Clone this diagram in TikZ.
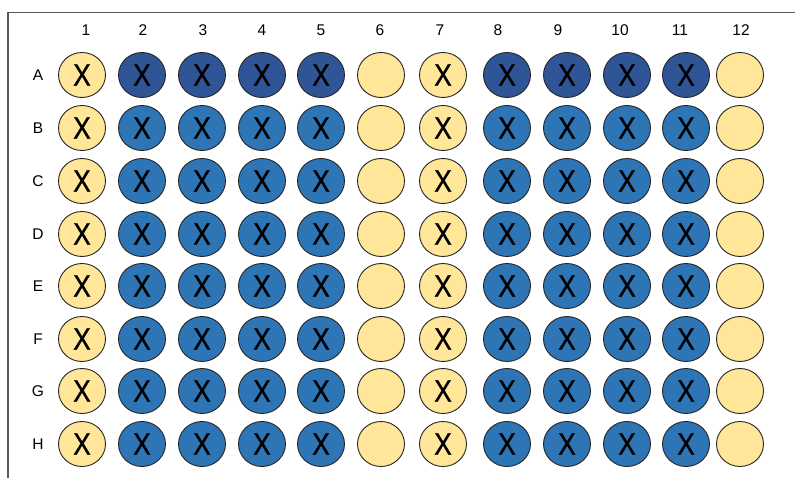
\documentclass[tikz,border=0pt]{standalone}
\usepackage{fontspec}
\setmainfont{Liberation Sans}
\newfontface\wellface{Liberation Sans}[FakeBold=1]
\usepackage{xcolor}
\usetikzlibrary{shapes.geometric}

\definecolor{wellyellow}{HTML}{FFE699}
\definecolor{welldark}{HTML}{2F5597}
\definecolor{wellblue}{HTML}{2E75B6}
\definecolor{plategray}{HTML}{595959}

\newcommand{\wellmark}{\scalebox{0.85}[1]{X}}

\begin{document}
\begin{tikzpicture}[
        x=1pt, y=-1pt,
        well/.style={ellipse, draw=black!85, line width=0.9pt,
            minimum width=47pt, minimum height=45pt, inner sep=0pt,
            font=\wellface\fontsize{31}{31}\selectfont},
        empty/.style={well, fill=wellyellow},
        ctrl/.style={well, fill=wellyellow},
        toprow/.style={well, fill=welldark},
        sample/.style={well, fill=wellblue},
        lbl/.style={font=\fontsize{15.5}{17}\selectfont, inner sep=0pt}
    ]
    \useasboundingbox (0,0) rectangle (795,478);
    % plate edge
    \draw [plategray, line width=1.6pt] (8,478) coordinate (edgeb) -- (8,12.5) coordinate (corner) -- (795,12.5) coordinate (edger);

    % column numbers
    \foreach \n/\x in {1/86, 2/143, 3/203, 4/262, 5/321, 6/380,
                       7/440, 8/498, 9/558, 10/620, 11/680, 12/741}
        \node [lbl] (col\n) at (\x,30) {\n};

    % row letters and wells
    \foreach \r/\y [count=\i] in {A/75, B/128, C/181, D/234, E/286, F/339, G/391, H/444} {
        \node [lbl] (row\r) at (38,\y) {\r};
        \foreach \c/\x in {1/82, 7/443}
            \node [ctrl] (\r\c) at (\x,\y) {\wellmark};
        \foreach \c/\x in {6/381, 12/740}
            \node [empty] (\r\c) at (\x,\y) {};
        \foreach \c/\x in {2/142, 3/202, 4/262, 5/321, 8/507, 9/567, 10/627, 11/686} {
            \ifnum\i=1
                \node [toprow] (\r\c) at (\x,\y) {\wellmark};
            \else
                \node [sample] (\r\c) at (\x,\y) {\wellmark};
            \fi
        }
    }
\end{tikzpicture}
\end{document}
